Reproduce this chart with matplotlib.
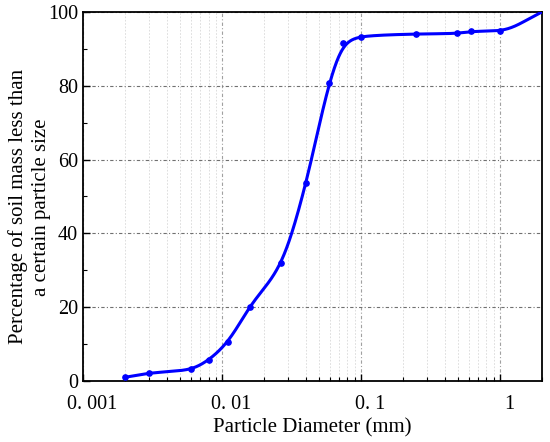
import numpy as np
import matplotlib
matplotlib.use("Agg")
from matplotlib import pyplot as plt
from matplotlib import transforms
from matplotlib.ticker import FixedLocator, LogLocator, NullFormatter, MultipleLocator

diameter = [0.002, 0.003, 0.006, 0.008, 0.011, 0.0158, 0.0267, 0.0403, 0.059,
            0.0748, 0.1, 0.248, 0.495, 0.624, 1.0]
percent = [1.0, 2.1, 3.2, 5.7, 10.6, 20.1, 31.9, 53.7, 80.7,
           91.5, 93.3, 94.0, 94.2, 94.7, 94.9]
# smooth fitted curve end point at the top right corner
curve_end = (2.0, 100.0)

xtick_vals = [0.001, 0.01, 0.1, 1]
xtick_labels = ["0. 001", "0. 01", "0. 1", "1"]


def pchip(x, y, xn):
    # monotone cubic hermite interpolation, linear beyond the ends
    x = np.asarray(x, float)
    y = np.asarray(y, float)
    h = np.diff(x)
    d = np.diff(y) / h
    m = np.zeros_like(y)
    for k in range(1, len(x) - 1):
        if d[k - 1] * d[k] > 0:
            w1 = 2 * h[k] + h[k - 1]
            w2 = h[k] + 2 * h[k - 1]
            m[k] = (w1 + w2) / (w1 / d[k - 1] + w2 / d[k])
    m[0] = d[0]
    m[-1] = d[-1]
    xc = np.clip(xn, x[0], x[-1])
    idx = np.clip(np.searchsorted(x, xc) - 1, 0, len(h) - 1)
    t = (xc - x[idx]) / h[idx]
    h00 = 2 * t**3 - 3 * t**2 + 1
    h10 = t**3 - 2 * t**2 + t
    h01 = -2 * t**3 + 3 * t**2
    h11 = t**3 - t**2
    out = h00 * y[idx] + h10 * h[idx] * m[idx] + h01 * y[idx + 1] + h11 * h[idx] * m[idx + 1]
    out = np.where(xn < x[0], y[0] + m[0] * (xn - x[0]), out)
    out = np.where(xn > x[-1], y[-1] + m[-1] * (xn - x[-1]), out)
    return out


plt.rcParams['font.family'] = ['Liberation Serif', 'DejaVu Serif']

fig = plt.figure(figsize=(5.5, 4.42), dpi=100)
ax = fig.add_axes([0.151, 0.138, 0.834, 0.835])

lx = np.log10(list(diameter) + [curve_end[0]])
ly = np.array(list(percent) + [curve_end[1]])
# smoothed curve: pchip then a gaussian blur in log space
step = 0.002
grid = np.arange(lx[0] - 0.4, lx[-1] + 0.4, step)
raw = pchip(lx, ly, grid)
sig = 0.05
kx = np.arange(-4 * sig, 4 * sig + step / 2, step)
ker = np.exp(-0.5 * (kx / sig) ** 2)
ker /= ker.sum()
smooth = np.convolve(raw, ker, mode='same')
keep = (grid >= lx[0]) & (grid <= lx[-1])

ax.plot(10**grid[keep], smooth[keep], color='#0000ff', lw=2.2, zorder=3)
ax.plot(diameter, percent, 'o', color='#0000ff', ms=3.8, zorder=4)

ax.set_xscale('log')
ax.set_xlim(0.001, 2)
ax.set_ylim(0, 100)

ax.xaxis.set_major_locator(FixedLocator(xtick_vals))
ax.set_xticklabels(xtick_labels)
ax.xaxis.set_minor_locator(LogLocator(base=10, subs=np.arange(2, 10)))
ax.xaxis.set_minor_formatter(NullFormatter())
ax.yaxis.set_major_locator(MultipleLocator(20))
ax.yaxis.set_minor_locator(MultipleLocator(10))

ax.tick_params(which='both', direction='in', top=False, right=False, labelsize=14.5)
ax.tick_params(which='major', length=5, width=1)
ax.tick_params(which='minor', length=3, width=0.8)
ax.tick_params(axis='x', pad=10)

# the x labels in the original sit a little right of their ticks
shift = transforms.ScaledTranslation(9 / 100, 0, fig.dpi_scale_trans)
for lab in ax.get_xticklabels():
    lab.set_transform(lab.get_transform() + shift)

ax.grid(which='minor', axis='x', color='#d8d8d8', ls=(0, (2, 2)), lw=0.6)
ax.grid(which='major', axis='x', color='#a0a0a0', ls=(0, (3, 2, 1, 2)), lw=0.8)
ax.grid(which='major', axis='y', color='#707070', ls=(0, (3, 2, 1, 2)), lw=0.8)

for s in ax.spines.values():
    s.set_linewidth(1.3)

ax.set_xlabel('Particle Diameter (mm)', fontsize=15, labelpad=3)
fig.text(0.054, 0.532, 'Percentage of soil mass less than\na certain particle size',
         fontsize=15, rotation=90, ha='center', va='center', linespacing=1.3)

fig.savefig('out.png', dpi=100)
